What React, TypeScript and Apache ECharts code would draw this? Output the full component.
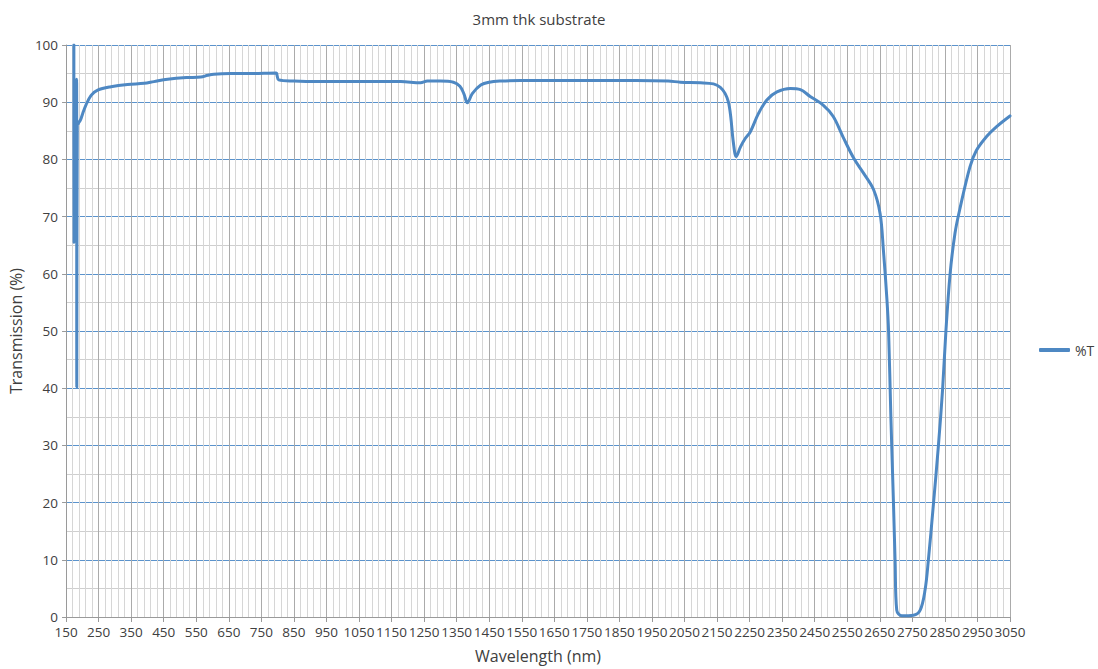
import React, { useEffect, useRef } from "react";
import * as echarts from "echarts";

const X_START = 150;
const X_END = 3050;

const wavelengths = [
  174, 174.5, 182.5, 183, 184.5, 188, 195, 201, 211, 227, 247, 288, 339, 390, 420, 462, 520, 564, 585, 604,
  656, 718, 795, 799, 803, 850, 922, 1000, 1100, 1178, 1239, 1260, 1300, 1340, 1360, 1372, 1383, 1398,
  1424, 1450, 1485, 1546, 1700, 1900, 2000, 2037, 2099, 2139, 2160, 2175, 2185, 2192, 2200, 2209, 2222,
  2237, 2252, 2277, 2303, 2334, 2375, 2406, 2436, 2476, 2507, 2538, 2570, 2600, 2631, 2651, 2661, 2672,
  2677, 2684, 2692, 2697, 2702, 2718, 2753, 2774, 2789, 2799, 2815, 2830, 2843, 2853, 2866, 2881, 2897,
  2927, 2947, 2978, 3008, 3050,
];

const transmission = [
  100, 65.5, 94, 40.2, 86, 86.3, 87, 88, 89.5, 91.2, 92.1, 92.7, 93.1, 93.3, 93.6, 94.0, 94.3, 94.4, 94.7,
  94.9, 95.0, 95.0, 95.1, 94.5, 93.9, 93.7, 93.6, 93.6, 93.6, 93.6, 93.4, 93.7, 93.7, 93.5, 92.8, 91.5,
  89.9, 91.5, 93.0, 93.5, 93.7, 93.8, 93.8, 93.8, 93.7, 93.5, 93.4, 93.2, 92.6, 91.5, 90.0, 87.5, 83.0,
  80.5, 82.2, 83.7, 84.8, 88.0, 90.4, 91.8, 92.4, 92.2, 91.0, 89.5, 87.5, 83.8, 80.2, 77.6, 74.7, 70.5,
  64.2, 55.4, 49.9, 35.0, 19.9, 9.8, 1.2, 0.2, 0.3, 1.2, 4.7, 9.8, 19.9, 29.9, 39.9, 49.9, 60.0, 67.1,
  71.6, 78.7, 81.6, 84.0, 85.7, 87.6,
];

const seriesName = "%T";
const titleText = "3mm thk substrate";
const xName = "Wavelength (nm)";
const yName = "Transmission (%)";

const FONT = "'Open Sans', 'Noto Sans', sans-serif";

export default function App() {
  const ref = useRef<HTMLDivElement>(null);
  useEffect(() => {
    if (!ref.current) return;
    const chart = echarts.init(ref.current, undefined, { renderer: "svg" });
    // x axis offset so ticks start at 150 (axis min must be a multiple of interval)
    const data = wavelengths.map((w, i) => [w - X_START, transmission[i]]);
    chart.setOption({
      animation: false,
      backgroundColor: "#ffffff",
      title: {
        text: titleText,
        left: 534,
        textAlign: "center",
        top: 6,
        textStyle: { fontFamily: FONT, fontSize: 15, fontWeight: "normal", color: "#404040" },
      },
      legend: {
        data: [seriesName],
        orient: "vertical",
        left: 1034,
        top: 338,
        icon: "roundRect",
        itemWidth: 31,
        itemHeight: 4,
        itemGap: 4,
        textStyle: { fontFamily: FONT, fontSize: 14, color: "#404040" },
      },
      grid: { left: 65, right: 88, top: 45, bottom: 52, containLabel: false },
      xAxis: {
        type: "value",
        min: 0,
        max: X_END - X_START,
        interval: 100,
        name: xName,
        nameLocation: "middle",
        nameGap: 31,
        nameTextStyle: { fontFamily: FONT, fontSize: 16, color: "#404040" },
        axisLine: { show: true, lineStyle: { color: "#9a9a9a", width: 1 } },
        axisTick: { show: true, length: 5, lineStyle: { color: "#9a9a9a" } },
        axisLabel: {
          fontFamily: FONT,
          fontSize: 13.5,
          color: "#404040",
          margin: 8,
          formatter: (v: number) => String(v + X_START),
        },
        splitLine: { show: true, lineStyle: { color: "#ababab", width: 1 } },
        minorTick: { show: false, splitNumber: 5 },
        minorSplitLine: { show: true, lineStyle: { color: "#d6d6d6", width: 1 } },
      },
      yAxis: {
        type: "value",
        min: 0,
        max: 100,
        interval: 10,
        name: yName,
        nameLocation: "middle",
        nameGap: 37,
        nameTextStyle: { fontFamily: FONT, fontSize: 16, color: "#404040" },
        axisLine: { show: true, lineStyle: { color: "#9a9a9a", width: 1 } },
        axisTick: { show: true, length: 4, lineStyle: { color: "#9a9a9a" } },
        axisLabel: { fontFamily: FONT, fontSize: 13.5, color: "#404040", margin: 8 },
        splitLine: { show: true, lineStyle: { color: "#5b93cc", width: 1 } },
        minorTick: { show: false, splitNumber: 2 },
        minorSplitLine: { show: true, lineStyle: { color: "#cfcfcf", width: 1 } },
      },
      series: [
        {
          name: seriesName,
          type: "line",
          data,
          showSymbol: false,
          symbol: "none",
          smooth: 0.35,
          lineStyle: { color: "#4e88c3", width: 3, cap: "round", join: "round" },
          itemStyle: { color: "#4e88c3" },
          z: 5,
        },
      ],
    });
    return () => chart.dispose();
  }, []);
  return (
    <div
      ref={ref}
      style={{ position: "fixed", left: 0, top: 0, width: 1098, height: 669 }}
    />
  );
}
